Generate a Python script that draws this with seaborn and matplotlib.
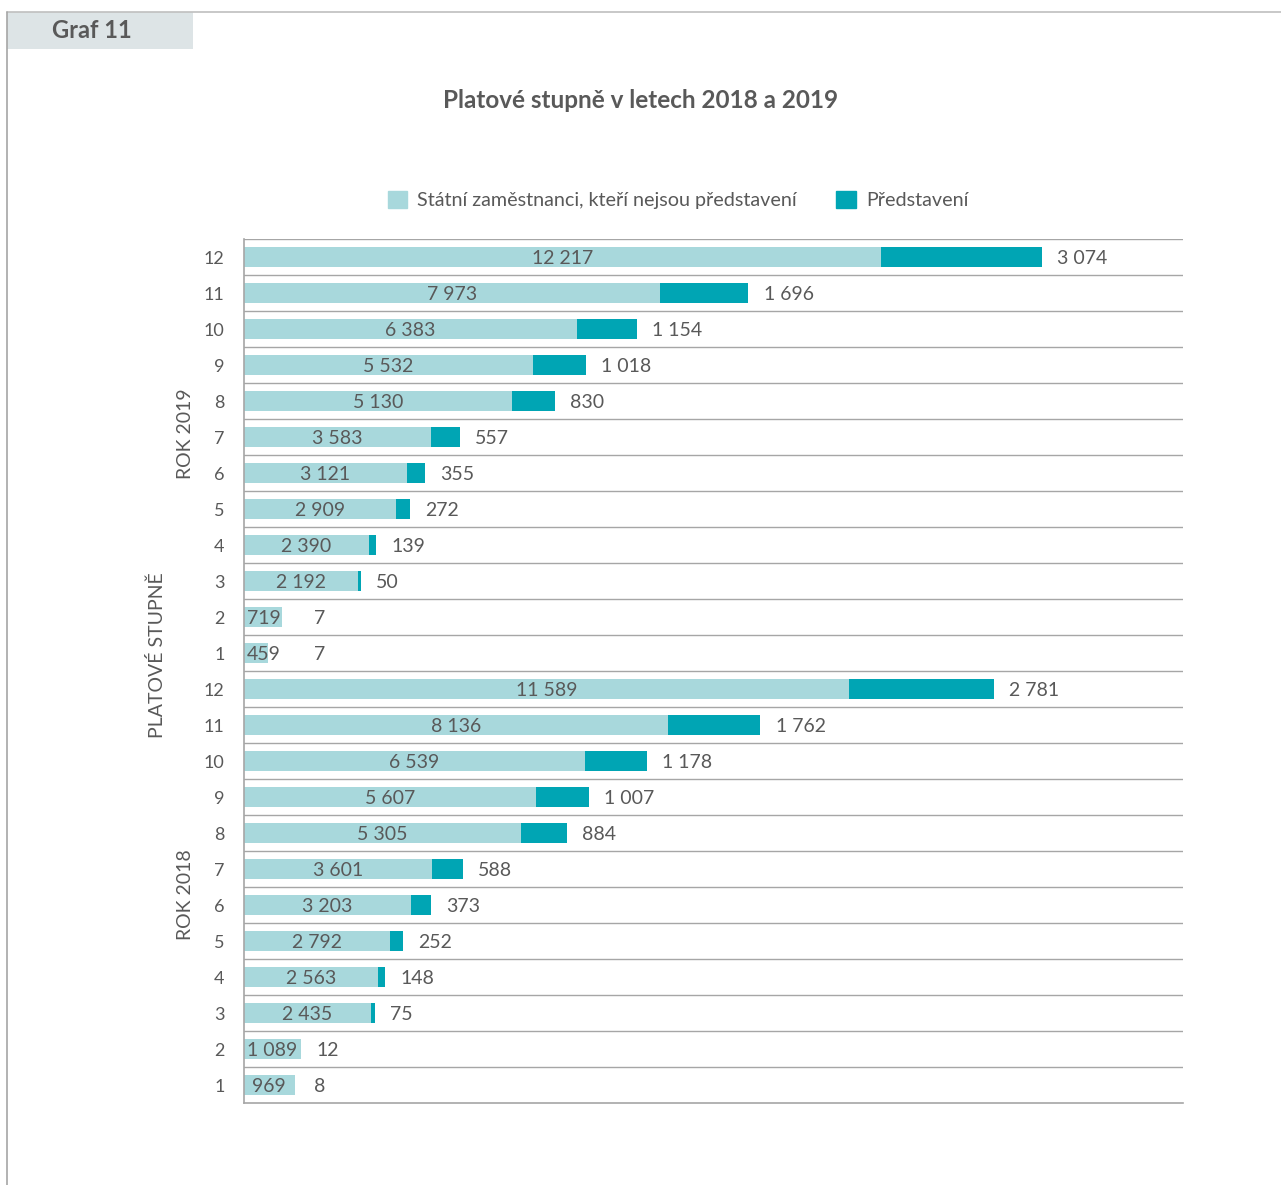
import matplotlib
matplotlib.use("Agg")
import matplotlib.pyplot as plt
from matplotlib.patches import Rectangle
import seaborn as sns
import pandas as pd

# Grades, top to bottom within each year block
grades = [12, 11, 10, 9, 8, 7, 6, 5, 4, 3, 2, 1]
years = ["2019", "2018"]

staff_2019 = [12217, 7973, 6383, 5532, 5130, 3583, 3121, 2909, 2390, 2192, 719, 459]
heads_2019 = [3074, 1696, 1154, 1018, 830, 557, 355, 272, 139, 50, 7, 7]
staff_2018 = [11589, 8136, 6539, 5607, 5305, 3601, 3203, 2792, 2563, 2435, 1089, 969]
heads_2018 = [2781, 1762, 1178, 1007, 884, 588, 373, 252, 148, 75, 12, 8]

series_staff = "Státní zaměstnanci, kteří nejsou představení"
series_heads = "Představení"
title = "Platové stupně v letech 2018 a 2019"
header = "Graf 11"
axis_label = "PLATOVÉ STUPNĚ"

LIGHT = "#a8d8dc"
DARK = "#00a5b4"
TXT = "#595959"
GRID = "#a6a6a6"

sns.set_theme(style="white")
plt.rcParams["font.family"] = ["Lato", "DejaVu Sans"]

rows = []
for yr, st, hd in [("2019", staff_2019, heads_2019), ("2018", staff_2018, heads_2018)]:
    for g, s, h in zip(grades, st, hd):
        rows.append({"key": f"{yr}-{g}", "year": yr, "grade": g,
                     "staff": s, "heads": h, "total": s + h})
df = pd.DataFrame(rows)
order = list(df["key"])


def fmt(v):
    return f"{v:,}".replace(",", " ")


fig = plt.figure(figsize=(12.81, 11.85), dpi=100)
ax = fig.add_axes([244 / 1281, 1 - 1103 / 1185, (1183 - 244) / 1281, (1103 - 239) / 1185])

# Stacked bars: full total in dark, staff portion overlaid in light
sns.barplot(data=df, y="key", x="total", order=order, orient="h",
            color=DARK, saturation=1, width=0.55, ax=ax, linewidth=0)
sns.barplot(data=df, y="key", x="staff", order=order, orient="h",
            color=LIGHT, saturation=1, width=0.55, ax=ax, linewidth=0)

xmax = 18000
ax.set_xlim(0, xmax)
ax.set_ylim(len(order) - 0.5, -0.5)
ax.set_xticks([])
ax.set_xlabel("")
ax.set_ylabel("")
ax.set_yticks(range(len(order)))
ax.set_yticklabels([str(g) for g in df["grade"]], color=TXT, fontsize=13)
ax.tick_params(axis="y", length=0, pad=14)

for sp in ["top", "right"]:
    ax.spines[sp].set_visible(False)
for sp in ["left", "bottom"]:
    ax.spines[sp].set_visible(True)
    ax.spines[sp].set_color(GRID)
    ax.spines[sp].set_linewidth(1.2)

# Row separators
for b in range(len(order)):
    ax.axhline(b - 0.5, color=GRID, lw=1.0, zorder=0)

# Value labels
min_center = 380
min_anchor = 1050
for i, r in df.iterrows():
    cx = max(r["staff"] / 2, min_center)
    ax.text(cx, i, fmt(r["staff"]), ha="center", va="center_baseline",
            color=TXT, fontsize=14)
    ax.annotate(fmt(r["heads"]), xy=(max(r["total"], min_anchor), i),
                xytext=(11, 0), textcoords="offset points", ha="left",
                va="center_baseline", color=TXT, fontsize=14)

# Year block labels (row positions in units of bars from the top)
year_label_rows = [5.4, 18.2]
for yr, rpos in zip(years, year_label_rows):
    ax.text(-0.062, 1 - rpos / 24, f"ROK {yr}", transform=ax.transAxes,
            rotation=90, ha="center", va="center", color=TXT, fontsize=14)
ax.text(-0.093, 1 - 11.55 / 24, axis_label, transform=ax.transAxes,
        rotation=90, ha="center", va="center", color=TXT, fontsize=14)

# Title
fig.text(641 / 1281, 1 - 100 / 1185, title, ha="center", va="center",
         fontsize=17.5, fontweight="bold", color=TXT)

# Legend
handles = [Rectangle((0, 0), 1, 1, color=LIGHT), Rectangle((0, 0), 1, 1, color=DARK)]
fig.legend(handles, [series_staff, series_heads], loc="center",
           bbox_to_anchor=(678 / 1281, 1 - 200 / 1185), ncol=2, frameon=False,
           fontsize=14.2, labelcolor=TXT, handlelength=1.0, handleheight=1.0,
           handletextpad=0.5, columnspacing=2.0)

# Frame and header tab
fig.add_artist(plt.Line2D([7 / 1281, 1], [1 - 12 / 1185] * 2, color="#bfbfbf",
                          lw=1.2, transform=fig.transFigure))
fig.add_artist(plt.Line2D([7 / 1281] * 2, [0, 1 - 12 / 1185], color="#a6a6a6",
                          lw=1.2, transform=fig.transFigure))
fig.add_artist(Rectangle((7 / 1281, 1 - 49 / 1185), (193 - 7) / 1281, 37 / 1185,
                         transform=fig.transFigure, color="#dde4e6", lw=0))
fig.text(92 / 1281, 1 - 31 / 1185, header, ha="center", va="center",
         fontsize=17, fontweight="bold", color=TXT)

fig.savefig("out.png", dpi=100, facecolor="white")
